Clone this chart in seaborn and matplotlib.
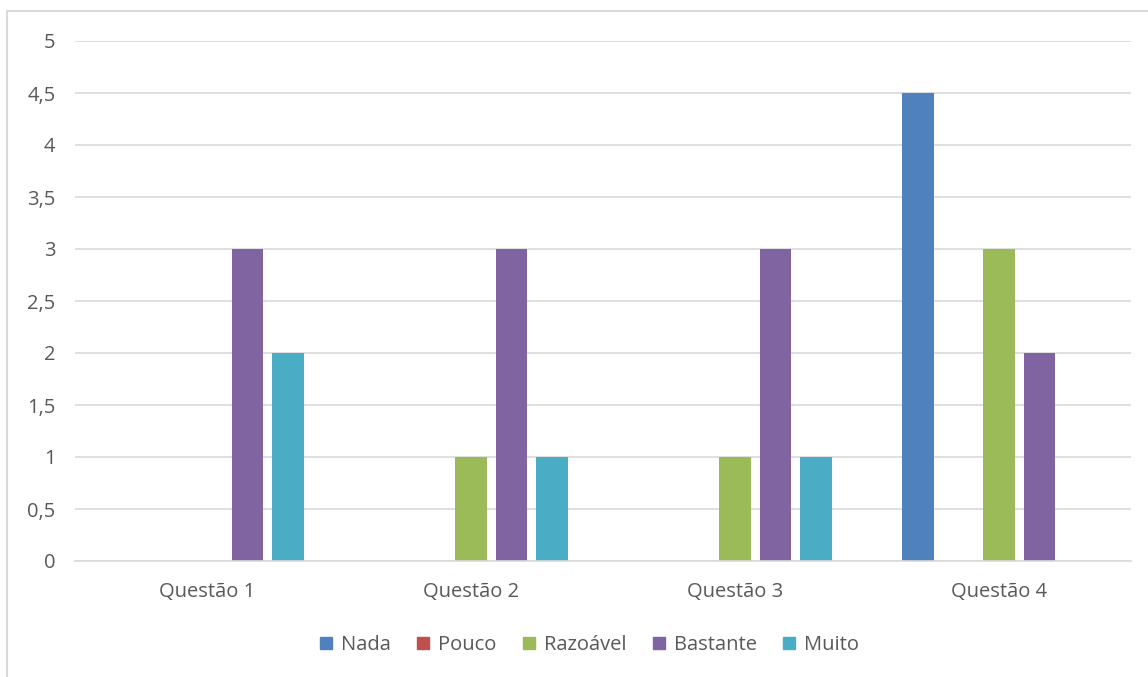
import matplotlib
matplotlib.use("Agg")
import matplotlib.pyplot as plt
import seaborn as sns
import pandas as pd
from matplotlib.lines import Line2D

categories = ["Questão 1", "Questão 2", "Questão 3", "Questão 4"]
series = ["Nada", "Pouco", "Razoável", "Bastante", "Muito"]
nada = [0, 0, 0, 4.5]
pouco = [0, 0, 0, 0]
razoavel = [0, 1, 1, 3]
bastante = [3, 3, 3, 2]
muito = [2, 1, 1, 0]
yticks = [0, 0.5, 1, 1.5, 2, 2.5, 3, 3.5, 4, 4.5, 5]
ytick_labels = ["0", "0,5", "1", "1,5", "2", "2,5", "3", "3,5", "4", "4,5", "5"]
colors = ["#4F81BD", "#C0504D", "#9BBB59", "#8064A2", "#4BACC6"]

rows = []
for s, vals in zip(series, [nada, pouco, razoavel, bastante, muito]):
    for c, v in zip(categories, vals):
        rows.append({"Questão": c, "Série": s, "Valor": v})
df = pd.DataFrame(rows)

sns.set_theme(style="white")
plt.rcParams["font.family"] = ["Open Sans", "DejaVu Sans"]
text_color = "#595959"
fs = 14.5

fig = plt.figure(figsize=(11.48, 6.77), dpi=100)
ax = fig.add_axes([75 / 1148, 1 - 561 / 677, (1131 - 75) / 1148, (561 - 41) / 677])

sns.barplot(data=df, x="Questão", y="Valor", hue="Série", order=categories,
            hue_order=series, palette=colors, width=0.767, gap=0.21,
            saturation=1, errorbar=None, ax=ax, legend=False, linewidth=0)

ax.set_ylim(0, 5)
ax.set_xlim(-0.5, 3.5)
ax.set_yticks(yticks)
ax.set_yticklabels(ytick_labels)
ax.yaxis.grid(True, color="#D9D9D9", linewidth=1.2)
ax.set_axisbelow(True)
for sp in ["top", "right", "left"]:
    ax.spines[sp].set_visible(False)
ax.spines["bottom"].set_color("#D9D9D9")
ax.spines["bottom"].set_linewidth(1.2)
ax.set_xlabel("")
ax.set_ylabel("")
ax.tick_params(axis="both", length=0, labelsize=fs, colors=text_color)
ax.tick_params(axis="y", pad=14)
ax.tick_params(axis="x", pad=15)

handles = [Line2D([0], [0], marker="s", linestyle="", markersize=9,
                  markerfacecolor=c, markeredgecolor=c) for c in colors]
fig.legend(handles, series, loc="center", bbox_to_anchor=(0.511, 1 - 645 / 677),
           ncol=5, frameon=False, fontsize=fs, handletextpad=0.15,
           columnspacing=1.0, handlelength=1.2, labelcolor=text_color)

# chart area border (left and top edges visible)
fig.add_artist(Line2D([7 / 1148, 7 / 1148], [0, 1 - 11 / 677], transform=fig.transFigure,
                      color="#D9D9D9", linewidth=1.5))
fig.add_artist(Line2D([7 / 1148, 1], [1 - 11 / 677, 1 - 11 / 677], transform=fig.transFigure,
                      color="#D9D9D9", linewidth=1.5))

fig.savefig("out.png", dpi=100, facecolor="white")
